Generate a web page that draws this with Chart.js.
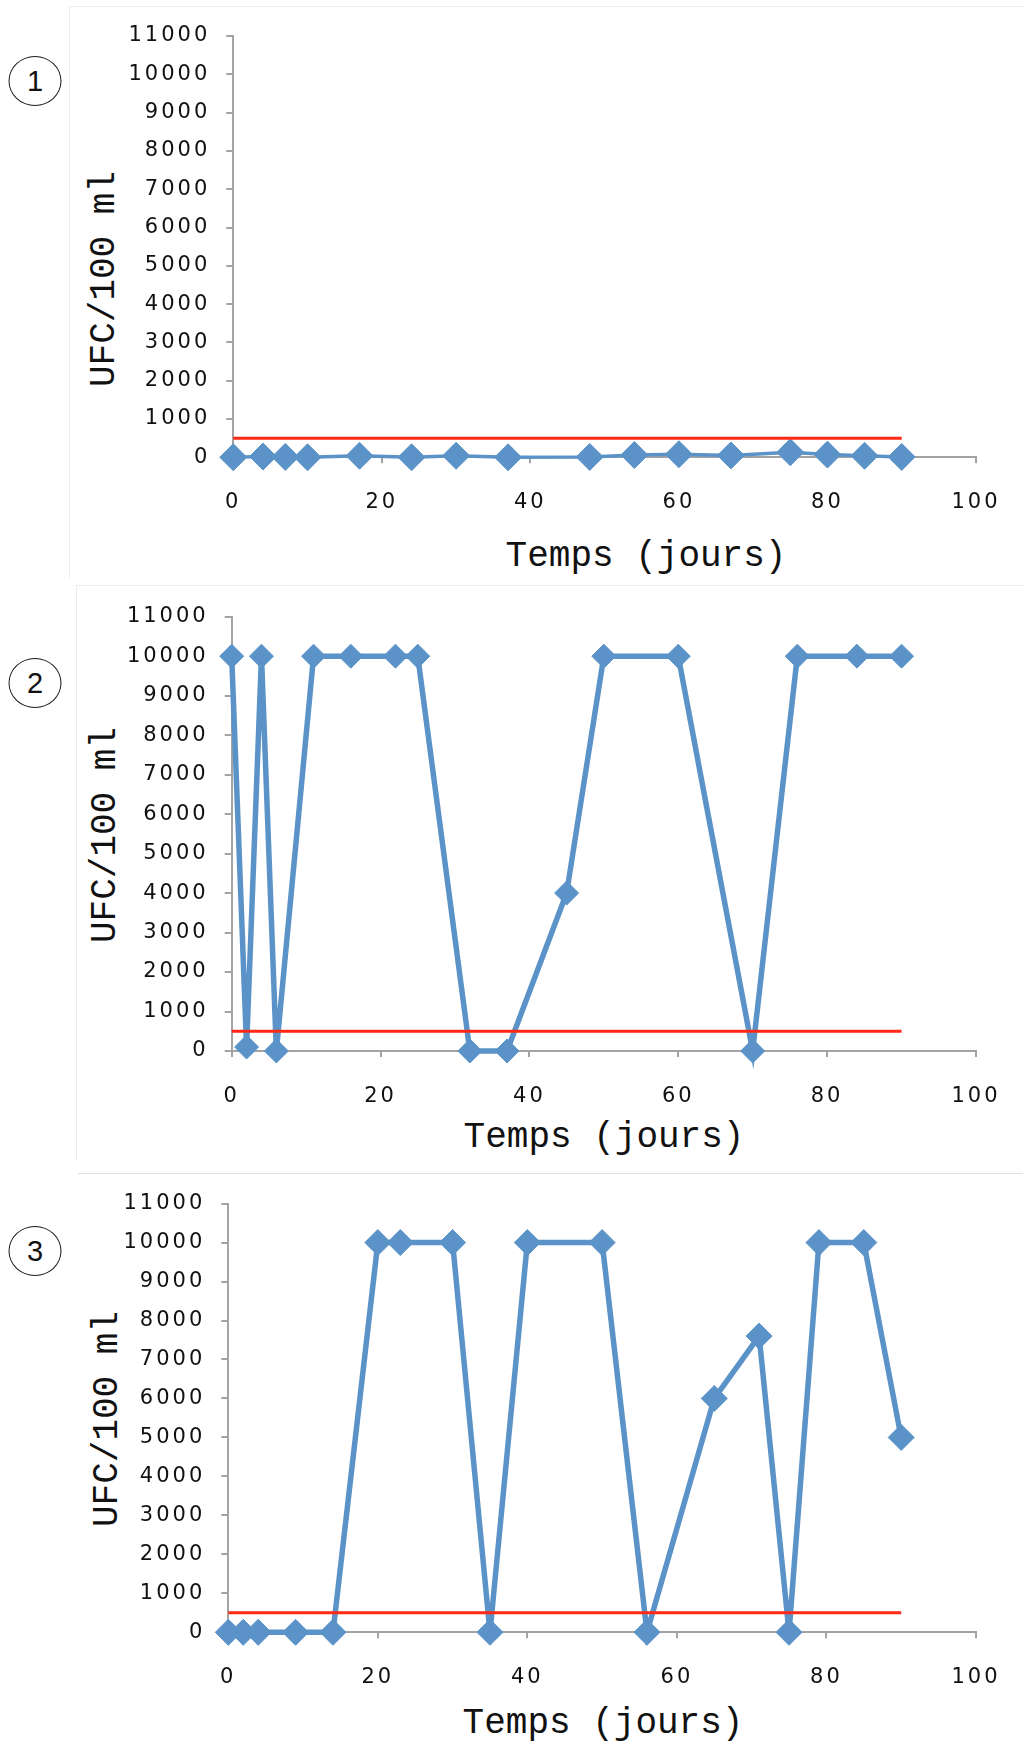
<!DOCTYPE html>
<html><head><meta charset="utf-8">
<script src="https://cdn.jsdelivr.net/npm/chart.js@4/dist/chart.umd.min.js"></script>
<style>
html,body{margin:0;padding:0;background:#fff;}
body{width:1023px;height:1744px;position:relative;overflow:hidden;}
canvas{position:absolute;left:0;}
.frame{position:absolute;border-left:1.5px solid #ececec;border-top:1.5px solid #ececec;}
.sep{position:absolute;height:0;border-top:1.5px solid #e0e0e0;}
.circ{position:absolute;width:53px;height:50px;border:1.6px solid #1a1a1a;border-radius:50%;transform:translate(-50%,-50%);font:29px "Liberation Sans",Arial,sans-serif;display:flex;align-items:center;justify-content:center;color:#111;box-sizing:border-box;}
.xt,.yt{position:absolute;font:36px "Liberation Mono",monospace;line-height:1;color:#111;white-space:nowrap;transform:translate(-50%,-50%);}
.yt{transform:translate(-50%,-50%) rotate(-90deg);}
</style></head><body>
<div class="frame" style="left:69px;top:6px;width:954px;height:571px;"></div>
<div class="frame" style="left:76px;top:585px;width:947px;height:575px;"></div>
<div class="sep" style="left:78px;top:1173px;width:945px;"></div>

<div class="circ" style="left:35px;top:81px;">1</div>
<div class="circ" style="left:35px;top:683px;">2</div>
<div class="circ" style="left:35px;top:1251px;">3</div>

<div class="yt" style="left:105px;top:279px;">UFC/100 ml</div>
<div class="yt" style="left:106px;top:835px;">UFC/100 ml</div>
<div class="yt" style="left:108px;top:1419px;">UFC/100 ml</div>
<div class="xt" style="left:646px;top:557px;">Temps (jours)</div>
<div class="xt" style="left:604px;top:1138px;">Temps (jours)</div>
<div class="xt" style="left:603px;top:1724px;">Temps (jours)</div>

<canvas id="c1" width="1023" height="575" style="top:0px;width:1023px;height:575px;"></canvas>
<canvas id="c2" width="1023" height="582" style="top:578px;width:1023px;height:582px;"></canvas>
<canvas id="c3" width="1023" height="569" style="top:1175px;width:1023px;height:569px;"></canvas>

<script>
// ---- data ----
const days1 = [0, 4, 7, 10, 17, 24, 30, 37, 48, 54, 60, 67, 75, 80, 85, 90];
const ufc1  = [0, 20, 10, 0, 40, 0, 40, 0, 10, 60, 80, 50, 130, 70, 40, 10];

const days2 = [0, 2, 4, 6, 11, 16, 22, 25, 32, 37, 45, 50, 60, 70, 76, 84, 90];
const ufc2  = [10000, 100, 10000, 0, 10000, 10000, 10000, 10000, 0, 0, 4000, 10000, 10000, 0, 10000, 10000, 10000];

const days3 = [0, 2, 4, 9, 14, 20, 23, 30, 35, 40, 50, 56, 65, 71, 75, 79, 85, 90];
const ufc3  = [0, 0, 0, 0, 0, 10000, 10000, 10000, 0, 10000, 10000, 0, 6000, 7600, 0, 10000, 10000, 5000];

const limitDays = [0, 90];
const limitVals = [500, 500];

const xTicks = [0, 20, 40, 60, 80, 100];
const yTicks = [0, 1000, 2000, 3000, 4000, 5000, 6000, 7000, 8000, 9000, 10000, 11000];

// ---- style ----
const BLUE = '#5b93c8';
const RED = '#ff2814';
const AXIS = '#a3a3a3';
const TICKFONT = {family: 'DejaVu Sans', size: 21};

const spacing = {id: 'sp', beforeDraw(chart) { chart.ctx.letterSpacing = '3px'; }};

function pts(xs, ys) { return xs.map((d, i) => ({x: d, y: ys[i]})); }

function makeChart(id, xs, ys, lw, pr, pad) {
  new Chart(document.getElementById(id), {
    type: 'line',
    data: {datasets: [
      {data: pts(xs, ys), borderColor: BLUE, backgroundColor: BLUE, borderWidth: lw,
       pointStyle: 'rectRot', pointRadius: pr, pointHoverRadius: pr, pointBorderWidth: 1,
       pointBorderColor: BLUE, pointBackgroundColor: BLUE, tension: 0, clip: false, order: 1},
      {data: pts(limitDays, limitVals), borderColor: RED, borderWidth: 3, pointRadius: 0,
       tension: 0, clip: false, order: 0}
    ]},
    options: {
      responsive: false, animation: false, events: [],
      layout: {padding: pad},
      plugins: {legend: {display: false}, tooltip: {enabled: false}},
      scales: {
        x: {type: 'linear', min: 0, max: 100,
            afterBuildTicks: s => { s.ticks = xTicks.map(v => ({value: v})); },
            ticks: {font: TICKFONT, color: '#111', padding: 27, maxRotation: 0, callback: v => String(v)},
            grid: {drawOnChartArea: false, drawTicks: true, tickLength: 6, color: AXIS, lineWidth: 2},
            border: {display: true, color: AXIS, width: 2},
            afterFit: s => { s.height = 60; }},
        y: {type: 'linear', min: 0, max: 11000,
            afterBuildTicks: s => { s.ticks = yTicks.map(v => ({value: v})); },
            ticks: {font: TICKFONT, color: '#111', padding: 16, callback: v => String(v)},
            grid: {drawOnChartArea: false, drawTicks: true, tickLength: 7, color: AXIS, lineWidth: 2},
            border: {display: true, color: AXIS, width: 2},
            afterFit: s => { s.width = 120; }}
      }
    },
    plugins: [spacing]
  });
}

makeChart('c1', days1, ufc1, 3.5, 13.5, {left: 113.3, right: 43.3, top: 36, bottom: 57.7});
makeChart('c2', days2, ufc2, 5.5, 12, {left: 111.7, right: 42, top: 38.7, bottom: 49});
makeChart('c3', days3, ufc3, 5.5, 13, {left: 108.3, right: 40, top: 28.3, bottom: 51.7});
</script>
</body></html>
